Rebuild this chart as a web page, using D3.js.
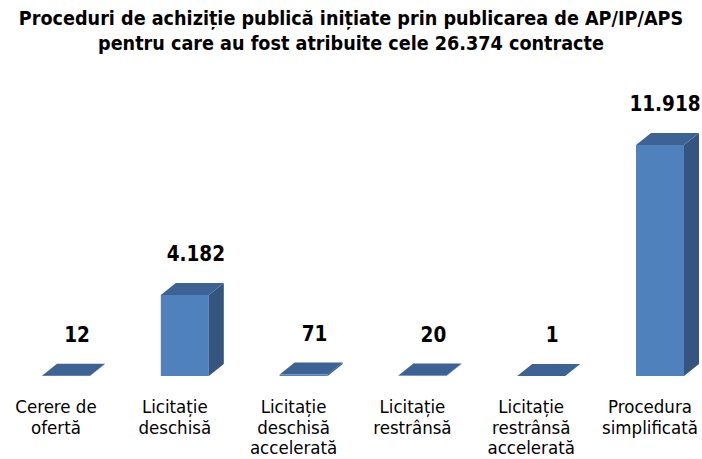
<!DOCTYPE html>
<html>
<head>
<meta charset="utf-8">
<script src="https://cdn.jsdelivr.net/npm/d3@7"></script>
<style>
  body { margin: 0; background: #fff; }
  text { font-family: "DejaVu Sans Condensed", "Liberation Sans Narrow", sans-serif; }
</style>
</head>
<body>
<div id="chart"></div>
<script>
// chart data
var categories = ["Cerere de ofertă", "Licitație deschisă", "Licitație deschisă accelerată",
                  "Licitație restrânsă", "Licitație restrânsă accelerată", "Procedura simplificată"];
var labelLines = [["Cerere de", "ofertă"], ["Licitație", "deschisă"], ["Licitație", "deschisă", "accelerată"],
                  ["Licitație", "restrânsă"], ["Licitație", "restrânsă", "accelerată"], ["Procedura", "simplificată"]];
var values = [12, 4182, 71, 20, 1, 11918];
var valueLabels = ["12", "4.182", "71", "20", "1", "11.918"];
var titleLines = ["Proceduri de achiziție publică inițiate prin publicarea de AP/IP/APS",
                  "pentru care au fost atribuite cele 26.374 contracte"];

var width = 702;
var height = 459;
var depthX = 15, depthY = 12;

var svg = d3.select("#chart").append("svg")
    .attr("width", width)
    .attr("height", height);

var x = d3.scaleBand()
    .domain(categories)
    .range([6.6, 719.4]);

var y = d3.scaleLinear()
    .domain([0, 12000])
    .range([376, 143.4]);

var barW = 48;

// title
svg.append("g").selectAll("text")
    .data(titleLines).enter()
    .append("text")
    .attr("x", 351)
    .attr("y", function(d, i) { return 25 + i * 25; })
    .attr("text-anchor", "middle")
    .attr("font-size", 19.6)
    .attr("font-weight", "bold")
    .attr("fill", "#000")
    .text(function(d) { return d; });

var bars = svg.append("g").selectAll("g")
    .data(values).enter()
    .append("g");

function left(i) { return x(categories[i]) + x.bandwidth() / 2 - barW / 2; }

// front face
bars.append("rect")
    .attr("x", function(d, i) { return left(i); })
    .attr("y", function(d) { return y(d); })
    .attr("width", barW)
    .attr("height", function(d) { return y(0) - y(d); })
    .attr("fill", "#4f81bd");

// side face
bars.append("polygon")
    .attr("points", function(d, i) {
        var x1 = left(i) + barW, t = y(d), b = y(0);
        return [[x1, t], [x1 + depthX, t - depthY], [x1 + depthX, b - depthY], [x1, b]].join(" ");
    })
    .attr("fill", "#35557f");

// top face
bars.append("polygon")
    .attr("points", function(d, i) {
        var x0 = left(i), x1 = x0 + barW, t = y(d);
        return [[x0, t], [x0 + depthX, t - depthY], [x1 + depthX, t - depthY], [x1, t]].join(" ");
    })
    .attr("fill", "#3d6294");

// value labels
bars.append("text")
    .attr("x", function(d, i) { return Math.min(left(i) + barW / 2 + 11, 665); })
    .attr("y", function(d) { return y(d) - depthY - 22; })
    .attr("text-anchor", "middle")
    .attr("font-size", 20.5)
    .attr("font-weight", "bold")
    .attr("fill", "#000")
    .text(function(d, i) { return valueLabels[i]; });

// category labels
var cats = svg.append("g").selectAll("text")
    .data(labelLines).enter()
    .append("text")
    .attr("x", function(d, i) { return x(categories[i]) + x.bandwidth() / 2 - 10; })
    .attr("y", 413)
    .attr("text-anchor", "middle")
    .attr("font-size", 18.5)
    .attr("fill", "#000");

cats.selectAll("tspan")
    .data(function(d) { return d; }).enter()
    .append("tspan")
    .attr("x", function() { return d3.select(this.parentNode).attr("x"); })
    .attr("dy", function(d, i) { return i === 0 ? 0 : 20.5; })
    .text(function(d) { return d; });
</script>
</body>
</html>
